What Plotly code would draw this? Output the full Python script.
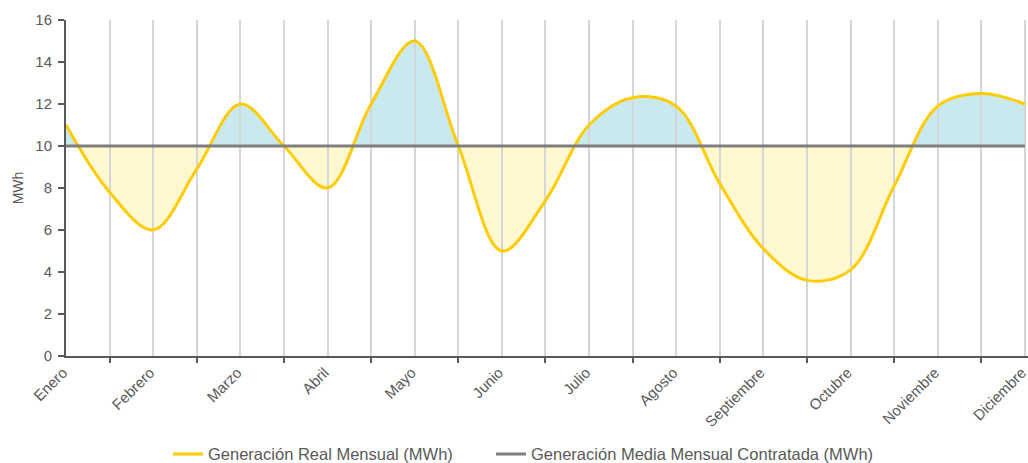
import plotly.graph_objects as go

# Half-month sample positions (0 = Enero ... 11 = Diciembre)
positions = [i * 0.5 for i in range(23)]
generacion_real = [11.0, 7.8, 6.0, 8.9, 12.0, 10.0, 8.0, 12.0, 15.0, 10.0, 5.0, 7.4,
                   11.0, 12.3, 11.9, 8.2, 5.1, 3.6, 4.1, 8.1, 11.9, 12.5, 12.0]
media_contratada = [10.0] * 23

meses = ["Enero", "Febrero", "Marzo", "Abril", "Mayo", "Junio", "Julio",
         "Agosto", "Septiembre", "Octubre", "Noviembre", "Diciembre"]
y_ticks = list(range(0, 17, 2))

YELLOW = "#FFCC00"
GREY_LINE = "#7F7F7F"
AXIS = "#595959"
GRID = "#D6D6D6"
FONT = "Liberation Sans, Arial, sans-serif"
W, H = 1028, 463

fig = go.Figure()

# Surplus band (above the contracted mean), clipped by its own y-domain
fig.add_trace(go.Scatter(x=positions, y=media_contratada, mode="lines",
                         line=dict(width=0), xaxis="x", yaxis="y",
                         showlegend=False, hoverinfo="skip"))
fig.add_trace(go.Scatter(x=positions, y=generacion_real, mode="lines",
                         line=dict(width=0, shape="spline"), fill="tonexty",
                         fillcolor="rgba(150,212,222,0.5)", xaxis="x", yaxis="y",
                         showlegend=False, hoverinfo="skip"))

# Deficit band (below the contracted mean)
fig.add_trace(go.Scatter(x=positions, y=media_contratada, mode="lines",
                         line=dict(width=0), xaxis="x", yaxis="y2",
                         showlegend=False, hoverinfo="skip"))
fig.add_trace(go.Scatter(x=positions, y=generacion_real, mode="lines",
                         line=dict(width=0, shape="spline"), fill="tonexty",
                         fillcolor="rgba(255,240,150,0.45)", xaxis="x", yaxis="y2",
                         showlegend=False, hoverinfo="skip"))

# Visible series, each with its own legend box
fig.add_trace(go.Scatter(x=positions, y=generacion_real, mode="lines",
                         name="Generación Real Mensual (MWh)",
                         line=dict(color=YELLOW, width=3, shape="spline"),
                         xaxis="x", yaxis="y3", legend="legend"))
fig.add_trace(go.Scatter(x=positions, y=media_contratada, mode="lines",
                         name="Generación Media Mensual Contratada (MWh)",
                         line=dict(color=GREY_LINE, width=3),
                         xaxis="x", yaxis="y3", legend="legend2"))

legend_style = dict(orientation="h", xref="container", xanchor="left",
                    y=0.019, yref="container", yanchor="middle",
                    font=dict(size=16.5, color=AXIS), itemwidth=30,
                    bgcolor="rgba(0,0,0,0)")

fig.update_layout(
    width=W, height=H,
    margin=dict(l=66, r=0, t=20, b=107),
    paper_bgcolor="white",
    plot_bgcolor="rgba(0,0,0,0)",
    font=dict(family=FONT, color=AXIS, size=13),
    xaxis=dict(
        domain=[0, 1], range=[0, 11.035], anchor="y3", automargin=False,
        tickvals=list(range(12)), ticktext=meses, tickangle=-45,
        ticks="", tickfont=dict(size=15, color=AXIS),
        ticklabeloverflow="allow", ticklabelshift=-3,
        showline=True, linecolor=AXIS, linewidth=2,
        showgrid=True, gridcolor=GRID, gridwidth=2, zeroline=False,
        minor=dict(tickvals=[0.5 + i for i in range(11)], ticks="outside",
                   ticklen=5, tickwidth=2, tickcolor=AXIS,
                   showgrid=True, gridcolor=GRID, gridwidth=2),
    ),
    yaxis=dict(domain=[0.625, 1], range=[10, 16], visible=False, anchor="x"),
    yaxis2=dict(domain=[0, 0.625], range=[0, 10], visible=False, anchor="x"),
    yaxis3=dict(
        domain=[0, 1], range=[0, 16], anchor="x", automargin=False,
        tickvals=y_ticks, ticks="outside", ticklen=6, tickwidth=2, tickcolor=AXIS,
        tickfont=dict(size=15, color=AXIS), ticklabelstandoff=3,
        showline=True, linecolor=AXIS, linewidth=2,
        showgrid=False, zeroline=False,
        title=dict(text="MWh", font=dict(size=14, color=AXIS), standoff=8),
    ),
    legend=dict(x=168 / W, **legend_style),
    legend2=dict(x=491 / W, **legend_style),
    showlegend=True,
)

fig.write_html("out.html")
